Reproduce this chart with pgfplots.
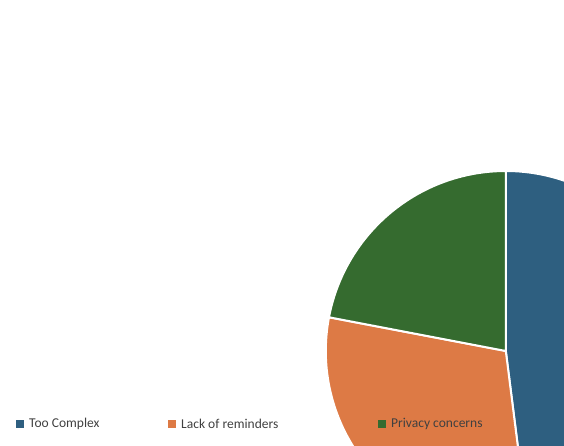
\documentclass[border=0pt]{standalone}
\usepackage{pgfplots}
\pgfplotsset{compat=1.18}
\usepackage{fontspec}
\setmainfont{Carlito}
\definecolor{cA}{HTML}{2E5F80}
\definecolor{cB}{HTML}{DD7A45}
\definecolor{cC}{HTML}{356B2F}
\begin{document}
\begin{tikzpicture}[x=1pt,y=1pt]
\path[use as bounding box] (0,0) rectangle (564,-446);
\def\va{48}\def\vb{30}\def\vc{22}
\pgfmathsetmacro\ea{90-3.6*\va}
\pgfmathsetmacro\eb{\ea-3.6*\vb}
\pgfmathsetmacro\ec{\eb-3.6*\vc}
\pgfmathsetmacro\xa{cos(\ea)}\pgfmathsetmacro\ya{sin(\ea)}
\pgfmathsetmacro\xb{cos(\eb)}\pgfmathsetmacro\yb{sin(\eb)}
\begin{axis}[at={(281,-195)},anchor=center,scale only axis,width=360pt,height=360pt,
  xmin=-1,xmax=1,ymin=-1,ymax=1,hide axis,clip=false]
\addplot[draw=none] coordinates {(0,0)};
\fill[cA,draw=white,line width=2pt,line join=round] (axis cs:0,0) -- (axis cs:0,1) arc[start angle=90,end angle=\ea,radius=180pt] -- cycle;
\fill[cB,draw=white,line width=2pt,line join=round] (axis cs:0,0) -- (axis cs:\xa,\ya) arc[start angle=\ea,end angle=\eb,radius=180pt] -- cycle;
\fill[cC,draw=white,line width=2pt,line join=round] (axis cs:0,0) -- (axis cs:\xb,\yb) arc[start angle=\eb,end angle=\ec,radius=180pt] -- cycle;
\end{axis}
\begin{scope}[font=\fontsize{13.5}{16}\selectfont,color=black!75]
\fill[cA] (16,-420) rectangle (24,-428); \node[anchor=west,inner sep=0] at (29,-424) {Too Complex};
\fill[cB] (168,-420) rectangle (176,-428); \node[anchor=west,inner sep=0] at (181,-424) {Lack of reminders};
\fill[cC] (378,-420) rectangle (386,-428); \node[anchor=west,inner sep=0] at (391,-424) {Privacy concerns};
\end{scope}
\end{tikzpicture}
\end{document}
